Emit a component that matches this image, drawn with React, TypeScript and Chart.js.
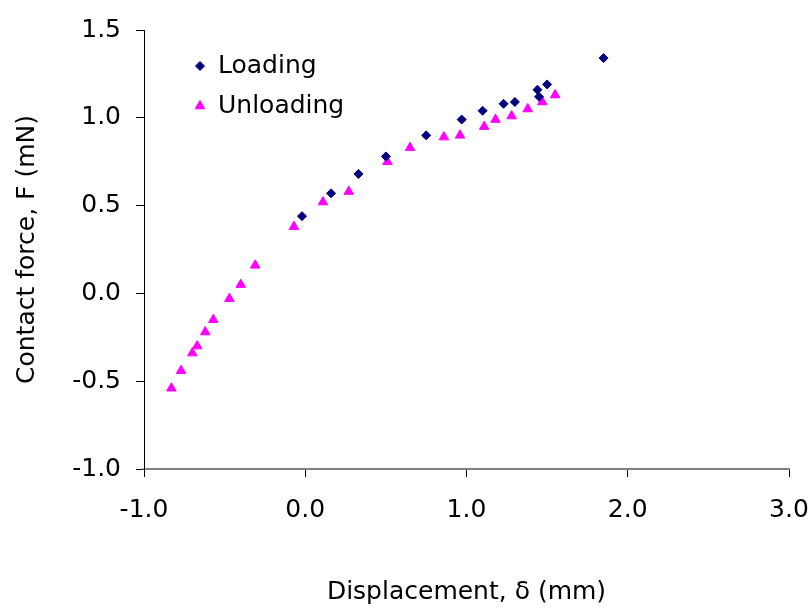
import React, { useEffect, useRef } from "react";
import { Chart, registerables } from "chart.js";
import { drawPoint } from "chart.js/helpers";

Chart.register(...registerables);

// Loading branch (diamonds)
const loadingX = [-0.02, 0.16, 0.33, 0.5, 0.75, 0.97, 1.1, 1.23, 1.3, 1.44, 1.45, 1.5, 1.85];
const loadingY = [0.44, 0.57, 0.68, 0.78, 0.9, 0.99, 1.04, 1.08, 1.09, 1.16, 1.12, 1.19, 1.34];

// Unloading branch (triangles)
const unloadingX = [
  -0.83, -0.77, -0.7, -0.67, -0.62, -0.57, -0.47, -0.4, -0.31, -0.07, 0.11,
  0.27, 0.51, 0.65, 0.86, 0.96, 1.11, 1.18, 1.28, 1.38, 1.47, 1.55,
];
const unloadingY = [
  -0.54, -0.44, -0.34, -0.3, -0.22, -0.15, -0.03, 0.05, 0.16, 0.38, 0.52,
  0.58, 0.75, 0.83, 0.89, 0.9, 0.95, 0.99, 1.01, 1.05, 1.09, 1.13,
];

const seriesLabels = ["Loading", "Unloading"];
const xTicks = [-1, 0, 1, 2, 3];
const yTicks = [-1, -0.5, 0, 0.5, 1, 1.5];
const xTitle = "Displacement, δ (mm)";
const yTitle = "Contact force, F (mN)";

const FONT_FAMILY = "'DejaVu Sans', Verdana, sans-serif";
const FONT_SIZE = 25;

const toPoints = (xs: number[], ys: number[]) => xs.map((x, i) => ({ x, y: ys[i] }));

// Legend drawn inside the plot area, upper left
const insetLegend = {
  id: "insetLegend",
  afterDraw(chart: any) {
    const { ctx, chartArea } = chart;
    const x0 = chartArea.left + 56;
    const y0 = chartArea.top + 36;
    chart.data.datasets.forEach((ds: any, i: number) => {
      const y = y0 + i * 40;
      ctx.save();
      ctx.fillStyle = ds.backgroundColor;
      ctx.strokeStyle = ds.borderColor;
      ctx.lineWidth = 1;
      drawPoint(ctx, { pointStyle: ds.pointStyle, radius: ds.pointRadius, borderWidth: 1, rotation: 0 } as any, x0, y);
      ctx.fillStyle = "#000";
      ctx.font = `${FONT_SIZE}px ${FONT_FAMILY}`;
      ctx.textAlign = "left";
      ctx.textBaseline = "middle";
      ctx.fillText(ds.label, x0 + 18, y);
      ctx.restore();
    });
  },
};

export default function App() {
  const canvasRef = useRef<HTMLCanvasElement | null>(null);

  useEffect(() => {
    if (!canvasRef.current) return;
    const font = { family: FONT_FAMILY, size: FONT_SIZE };
    const chart = new Chart(canvasRef.current, {
      type: "scatter",
      data: {
        datasets: [
          {
            label: seriesLabels[0],
            data: toPoints(loadingX, loadingY),
            pointStyle: "rectRot",
            pointRadius: 4.5,
            borderWidth: 1,
            backgroundColor: "#000080",
            borderColor: "#000080",
          },
          {
            label: seriesLabels[1],
            data: toPoints(unloadingX, unloadingY),
            pointStyle: "triangle",
            pointRadius: 5.5,
            borderWidth: 1,
            backgroundColor: "#ff00ff",
            borderColor: "#ff00ff",
          },
        ],
      },
      options: {
        responsive: false,
        animation: false,
        layout: { padding: { top: 30, right: 23, left: 0, bottom: 0 } },
        plugins: {
          legend: { display: false },
          tooltip: { enabled: false },
        },
        scales: {
          x: {
            type: "linear",
            min: xTicks[0],
            max: xTicks[xTicks.length - 1],
            afterBuildTicks: (scale: any) => {
              scale.ticks = xTicks.map((v) => ({ value: v }));
            },
            afterFit: (scale: any) => {
              scale.height = 143;
              scale.paddingLeft = 0;
              scale.paddingRight = 0;
            },
            ticks: {
              color: "#000",
              font,
              padding: 18,
              maxRotation: 0,
              callback: (v: any) => Number(v).toFixed(1),
            },
            grid: {
              drawOnChartArea: false,
              drawTicks: true,
              tickLength: 8,
              color: "#000",
              lineWidth: 1,
            },
            border: { display: true, color: "#808080", width: 2 },
            title: {
              display: true,
              text: xTitle,
              color: "#000",
              font,
              padding: { top: 0, bottom: 5 },
            },
          },
          y: {
            type: "linear",
            min: yTicks[0],
            max: yTicks[yTicks.length - 1],
            afterBuildTicks: (scale: any) => {
              scale.ticks = yTicks.map((v) => ({ value: v }));
            },
            afterFit: (scale: any) => {
              scale.width = 144;
              scale.paddingTop = 0;
              scale.paddingBottom = 0;
            },
            ticks: {
              color: "#000",
              font,
              padding: 15,
              callback: (v: any) => Number(v).toFixed(1),
            },
            grid: {
              drawOnChartArea: false,
              drawTicks: true,
              tickLength: 8,
              color: "#000",
              lineWidth: 1,
            },
            border: { display: true, color: "#000", width: 1 },
            title: {
              display: true,
              text: yTitle,
              color: "#000",
              font,
              padding: { top: 12, bottom: 0 },
            },
          },
        },
      },
      plugins: [insetLegend],
    } as any);
    return () => chart.destroy();
  }, []);

  return (
    <div style={{ position: "fixed", left: 0, top: 0, width: 812, height: 612, background: "#fff" }}>
      <canvas ref={canvasRef} width={812} height={612} />
    </div>
  );
}
